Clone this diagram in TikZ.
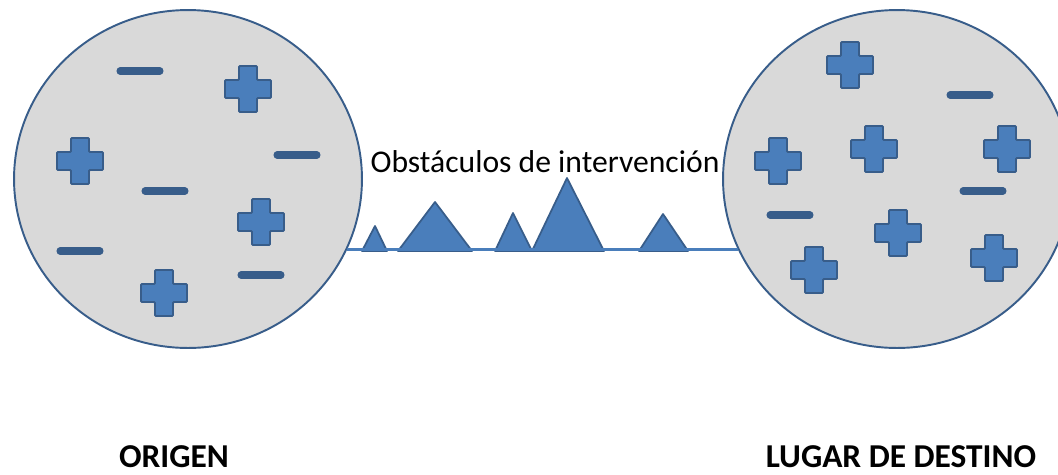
\documentclass[tikz,border=0pt]{standalone}
\usepackage{fontspec}
\setmainfont{Carlito}
\usetikzlibrary{shapes.geometric}
\definecolor{fillblue}{HTML}{4A7EBB}
\definecolor{edgeblue}{HTML}{385D8A}
\definecolor{cellgray}{HTML}{D9D9D9}

\begin{document}
\begin{tikzpicture}
            [x=0.02cm, y=-0.02cm, semithick,
             cell/.style={shape=ellipse, draw=edgeblue, fill=cellgray, line width=1.1pt, minimum width=6.96cm, minimum height=6.76cm, inner sep=0pt},
             obstacle/.style={draw=edgeblue, fill=fillblue, line width=1pt, line join=round},
             minusbar/.style={draw=edgeblue, line width=4pt, line cap=round},
             bridge/.style={draw=fillblue, line width=1.5pt},
             placename/.style={font=\fontsize{19}{23}\selectfont\bfseries, inner sep=0pt, anchor=base},
             plussign/.pic={\draw[draw=edgeblue, fill=fillblue, line width=1.1pt, rounded corners=0.6pt]
                 (-9,-23) -- (9,-23) -- (9,-9) -- (23,-9) -- (23,9) -- (9,9) -- (9,23)
                 -- (-9,23) -- (-9,9) -- (-23,9) -- (-23,-9) -- (-9,-9) -- cycle;}]
            \path[use as bounding box, clip] (0,0) rectangle (1058,474);

            \node[cell] (origen) at (188, 179) {};
            \node[cell] (destino) at (897, 179) {};

            % charges in the origin
            \foreach \x/\y in {248/89, 80/161, 261/222, 164/293}
                \pic at (\x, \y) {plussign};
            \foreach \x/\y in {140/71, 297/155, 165/191, 80/251, 261/275}
                \draw[minusbar] (\x-20, \y) -- (\x+20, \y);

            % charges at the destination
            \foreach \x/\y in {850/65, 874/149, 1007/149, 778/161, 898/233, 814/270, 994/258}
                \pic at (\x, \y) {plussign};
            \foreach \x/\y in {970/95, 983/191, 790/215}
                \draw[minusbar] (\x-20, \y) -- (\x+20, \y);

            % obstacles
            \foreach \l/\ax/\ay/\r in {362/375/226/387, 398/435/202/472, 495/513/213/532, 532/567/178/604, 639/663/214/688}
                \draw[obstacle] (\l, 251) -- (\ax, \ay) -- (\r, 251) -- cycle;

            \draw[bridge] (origen.-24.6) -- (destino.204.6);

            \node[font=\fontsize{18}{22}\selectfont, inner sep=0pt, anchor=base] (obst) at (545, 172) {Obstáculos de intervención};
            \node[placename] (origenname) at (174, 467) {ORIGEN};
            \node[placename] (destinoname) at (901, 467) {LUGAR DE DESTINO};
        \end{tikzpicture}
\end{document}
